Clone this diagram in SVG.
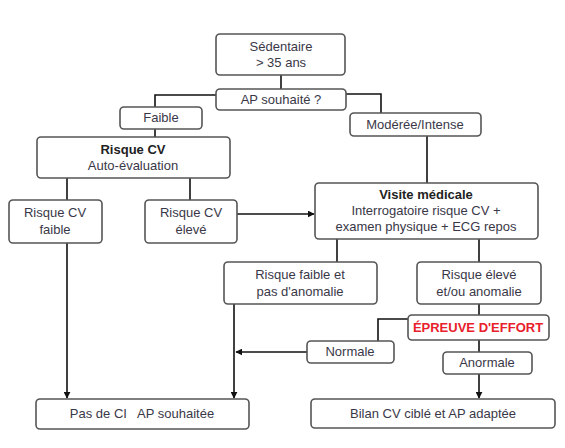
<svg xmlns="http://www.w3.org/2000/svg" width="565" height="448" viewBox="0 0 565 448">
<style>
.box{fill:#fff;stroke:#555;stroke-width:1.6}
.t{font-family:"Liberation Sans",Arial,sans-serif;font-size:13px;fill:#3a3848;text-anchor:middle;white-space:pre}
.b{font-weight:bold;fill:#222}
.red{fill:#e8202a;font-weight:bold}
.ln{fill:none;stroke:#111;stroke-width:1.6}
</style>
<defs>
<marker id="ah" viewBox="0 0 10 10" refX="9" refY="5" markerWidth="7" markerHeight="7" markerUnits="userSpaceOnUse" orient="auto">
<path d="M0,0 L10,5 L0,10 Z" fill="#111"/>
</marker>
</defs>
<rect width="565" height="448" fill="#fff"/>
<g id="connectors">
<path class="ln" d="M281,75 V89"/>
<path class="ln" d="M216,95 H155 V107"/>
<path class="ln" d="M346,94 H381 V113"/>
<path class="ln" d="M155,129 V137"/>
<path class="ln" d="M67,178 V200"/>
<path class="ln" d="M190,178 V200"/>
<path class="ln" d="M67,243 V398" marker-end="url(#ah)"/>
<path class="ln" d="M237,214 H314" marker-end="url(#ah)"/>
<path class="ln" d="M427,136 V183"/>
<path class="ln" d="M337,239 V262"/>
<path class="ln" d="M479,239 V262"/>
<path class="ln" d="M234,304 V398" marker-end="url(#ah)"/>
<path class="ln" d="M479,304 V315"/>
<path class="ln" d="M408,319 H378 V341"/>
<path class="ln" d="M307,352 H236" marker-end="url(#ah)"/>
<path class="ln" d="M479,340 V352"/>
<path class="ln" d="M479,374 V398" marker-end="url(#ah)"/>
</g>
<g id="sedentaire"><rect class="box" x="216" y="34" width="129" height="41" rx="4"/><text class="t" x="281" y="51">Sédentaire</text><text class="t" x="281" y="67">&gt; 35 ans</text></g>
<g id="ap"><rect class="box" x="216" y="89" width="130" height="21" rx="4"/><text class="t" x="281" y="104">AP souhaité ?</text></g>
<g id="faible"><rect class="box" x="120" y="107" width="82" height="22" rx="4"/><text class="t" x="161" y="122">Faible</text></g>
<g id="moderee"><rect class="box" x="350" y="113" width="131" height="23" rx="4"/><text class="t" x="415" y="129">Modérée/Intense</text></g>
<g id="risquecv"><rect class="box" x="37" y="137" width="193" height="41" rx="4"/><text class="t b" x="133" y="154">Risque CV</text><text class="t" x="133" y="170">Auto-évaluation</text></g>
<g id="rcvfaible"><rect class="box" x="9" y="200" width="93" height="43" rx="4"/><text class="t" x="55" y="217">Risque CV</text><text class="t" x="55" y="234">faible</text></g>
<g id="rcveleve"><rect class="box" x="145" y="200" width="92" height="43" rx="4"/><text class="t" x="191" y="217">Risque CV</text><text class="t" x="191" y="234">élevé</text></g>
<g id="visite"><rect class="box" x="315" y="183" width="223" height="56" rx="4"/><text class="t b" x="426" y="199">Visite médicale</text><text class="t" x="426" y="215">Interrogatoire risque CV +</text><text class="t" x="426" y="231">examen physique + ECG repos</text></g>
<g id="rfaible"><rect class="box" x="224" y="262" width="153" height="42" rx="4"/><text class="t" x="300" y="279">Risque faible et</text><text class="t" x="300" y="296">pas d'anomalie</text></g>
<g id="releve"><rect class="box" x="417" y="262" width="124" height="42" rx="4"/><text class="t" x="479" y="279">Risque élevé</text><text class="t" x="479" y="296">et/ou anomalie</text></g>
<g id="epreuve"><rect class="box" x="408" y="315" width="141" height="25" rx="4"/><text class="t red" x="478" y="332">ÉPREUVE D'EFFORT</text></g>
<g id="normale"><rect class="box" x="307" y="341" width="87" height="22" rx="4"/><text class="t" x="350" y="356">Normale</text></g>
<g id="anormale"><rect class="box" x="443" y="352" width="89" height="22" rx="4"/><text class="t" x="487" y="367">Anormale</text></g>
<g id="pasdeci"><rect class="box" x="36" y="399" width="213" height="30" rx="4"/><text class="t" x="142" y="418">Pas de CI   AP souhaitée</text></g>
<g id="bilan"><rect class="box" x="311" y="399" width="244" height="29" rx="4"/><text class="t" x="433" y="418">Bilan CV ciblé et AP adaptée</text></g>
</svg>
